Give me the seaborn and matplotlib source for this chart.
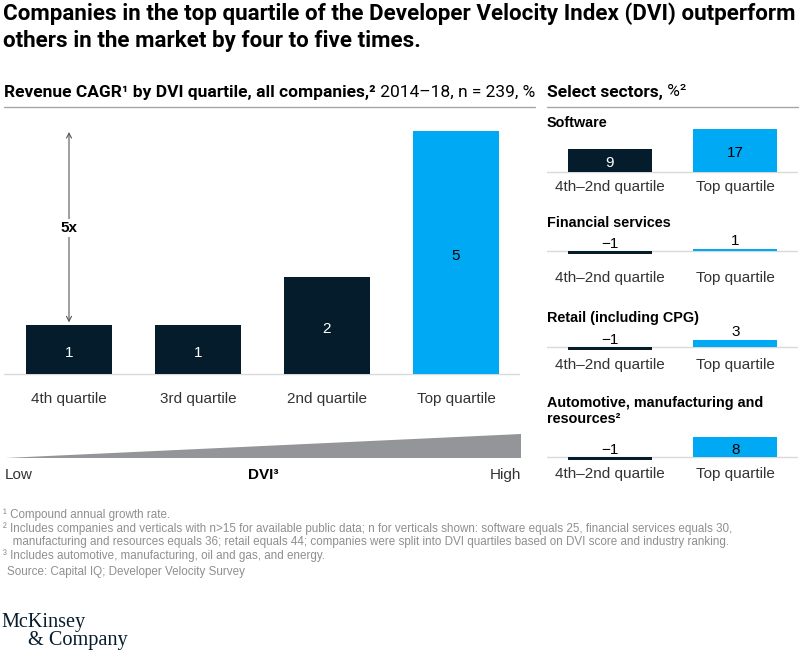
import matplotlib
matplotlib.use("Agg")
import matplotlib.pyplot as plt
from matplotlib.lines import Line2D
import seaborn as sns
import pandas as pd

# ---------------- data ----------------
quartiles = ["4th quartile", "3rd quartile", "2nd quartile", "Top quartile"]
cagr_all = [1, 1, 2, 5]
multiple_label = "5x"

sectors = ["Software", "Financial services", "Retail (including CPG)",
           "Automotive, manufacturing and\nresources²"]
sector_groups = ["4th–2nd quartile", "Top quartile"]
sector_low = [9, -1, -1, -1]
sector_top = [17, 1, 3, 8]

footnotes = [
    "¹ Compound annual growth rate.",
    "² Includes companies and verticals with n>15 for available public data; n for verticals shown: software equals 25, financial services equals 30,",
    "   manufacturing and resources equals 36; retail equals 44; companies were split into DVI quartiles based on DVI score and industry ranking.",
    "³ Includes automotive, manufacturing, oil and gas, and energy.",
]
source = "Source: Capital IQ; Developer Velocity Survey"

# ---------------- style ----------------
NAVY = "#051c2c"
BLUE = "#00a9f4"
GRID = "#d9d9d9"
TXT = "#333333"
W, H = 804, 655

sns.set_style("white")
plt.rcParams['font.family'] = ['Liberation Sans', 'DejaVu Sans']
TF = ['Roboto', 'Liberation Sans', 'DejaVu Sans']

fig = plt.figure(figsize=(W / 100, H / 100), dpi=100)
fig.patch.set_facecolor("white")
renderer = fig.canvas.get_renderer()


def px_axes(x0, y0, x1, y1):
    ax = fig.add_axes([x0 / W, 1 - y1 / H, (x1 - x0) / W, (y1 - y0) / H])
    ax.patch.set_alpha(0)
    return ax


def txt(x, y, s, size, ha="left", va="center", **kw):
    return fig.text(x / W, 1 - y / H, s, fontsize=size, ha=ha, va=va, **kw)


def width_of(t):
    return t.get_window_extent(renderer).width


def fit(t, w):
    t.set_fontsize(t.get_fontsize() * w / width_of(t))
    return t.get_fontsize()


def hline(x0, x1, y, color, lw=1.0):
    fig.add_artist(Line2D([x0 / W, x1 / W], [1 - y / H, 1 - y / H], color=color, lw=lw))


# ---------------- title ----------------
t1 = txt(3, 14, "Companies in the top quartile of the Developer Velocity Index (DVI) outperform",
         15, fontweight="bold", family=TF, color="black")
tsize = fit(t1, 794)
txt(3, 41, "others in the market by four to five times.", tsize, fontweight="bold",
    family=TF, color="black")

# ---------------- headers ----------------
hb = txt(4, 92, "Revenue CAGR¹ by DVI quartile, all companies,²", 12, fontweight="bold",
         family=TF, color="black")
hr = txt(4, 92, " 2014–18, n = 239, %", 12, family=TF, color="black")
scale = 531 / (width_of(hb) + width_of(hr))
hsize = 12 * scale
hb.set_fontsize(hsize)
hr.set_fontsize(hsize)
hr.set_x((4 + width_of(hb)) / W)
hline(4, 535, 107, "#a6a6a6")

sb = txt(547, 92, "Select sectors,", hsize, fontweight="bold", family=TF, color="black")
sr = txt(547 + width_of(sb), 92, " %²", hsize, family=TF, color="black")
hline(547, 798, 107, "#a6a6a6")

# ---------------- main bar chart ----------------
PXU = 48.6  # pixels per unit
base_px = 374
ax = px_axes(4.5, 120, 520.5, 380)
df = pd.DataFrame({"q": quartiles, "v": cagr_all})
pal = [NAVY, NAVY, NAVY, BLUE]
sns.barplot(data=df, x="q", y="v", hue="q", palette=pal, width=0.667, saturation=1,
            legend=False, ax=ax, edgecolor="none", linewidth=0)
ax.set_xlim(-0.5, 3.5)
ax.set_ylim(-(380 - base_px) / PXU, (base_px - 120) / PXU)
ax.set_axis_off()
ax.axhline(0, color=GRID, lw=1, zorder=0.5)
body = 11
for i, (q, v) in enumerate(zip(quartiles, cagr_all)):
    ax.annotate(str(v), xy=(i, v / 2), xytext=(0, -2 * 0.72), textcoords="offset points",
                ha="center", va="center_baseline", fontsize=body,
                color="white" if pal[i] == NAVY else "black")
    ax.annotate(q, xy=(i, 0), xytext=(0, -25 * 0.72), textcoords="offset points",
                ha="center", va="center", fontsize=body, color=TXT)

# multiple arrow
ax.annotate("", xy=(0, cagr_all[3] - 1 / PXU), xytext=(0, cagr_all[0] + 3 / PXU),
            arrowprops=dict(arrowstyle="<->,head_length=0.35,head_width=0.18",
                            color="#555555", lw=0.8, shrinkA=0, shrinkB=0))
ax.text(0, (cagr_all[0] + cagr_all[3]) / 2, multiple_label, ha="center", va="center",
        fontsize=body, fontweight="bold", color="black",
        bbox=dict(facecolor="white", edgecolor="none", pad=1.5))

# ---------------- DVI wedge ----------------
wax = px_axes(5, 434, 521, 458)
wax.fill([0, 1, 1], [0, 0, 1], color="#939598", lw=0)
wax.set_xlim(0, 1)
wax.set_ylim(0, 1)
wax.set_axis_off()
txt(5, 475, "Low", body, color=TXT)
txt(521, 475, "High", body, ha="right", color=TXT)
txt(263, 475, "DVI³", body, ha="center", fontweight="bold", color="black")

# ---------------- sector panels ----------------
SPX = 2.5  # pixels per unit
layout = [(123, 172, 187), (223, 251, 278), (318, 347, 365), (411, 457, 474)]
tt = txt(547, 223, "Financial services", 10, fontweight="bold", color="black")
secsize = fit(tt, 124)
tt.remove()
for k, (name, lo, hi) in enumerate(zip(sectors, sector_low, sector_top)):
    ty, yb, ly = layout[k]
    txt(547, ty, name, secsize, fontweight="bold", color="black", linespacing=1.25)
    sax = px_axes(547, yb - 50, 798, yb + 10)
    sdf = pd.DataFrame({"g": sector_groups, "v": [lo, hi]})
    sns.barplot(data=sdf, x="g", y="v", hue="g", palette=[NAVY, BLUE], width=0.667,
                saturation=1, legend=False, ax=sax, edgecolor="none", linewidth=0)
    sax.set_xlim(-0.5, 1.5)
    sax.set_ylim(-10 / SPX, 50 / SPX)
    sax.set_axis_off()
    sax.axhline(0, color=GRID, lw=1, zorder=0.5)
    for i, v in enumerate([lo, hi]):
        lab = str(v).replace("-", "−")
        if abs(v) >= 8:
            sax.annotate(lab, xy=(i, v / 2), xytext=(0, -1 * 0.72), textcoords="offset points",
                         ha="center", va="center_baseline", fontsize=body,
                         color="white" if i == 0 else "black")
        else:
            sax.annotate(lab, xy=(i, max(v, 0)), xytext=(0, 9 * 0.72),
                         textcoords="offset points", ha="center", va="center_baseline",
                         fontsize=body, color="black")
        sax.annotate(sector_groups[i], xy=(i, 0), xytext=(0, -(ly - yb) * 0.72),
                     textcoords="offset points", ha="center", va="center",
                     fontsize=body, color=TXT)

# ---------------- footnotes ----------------
FC = "#8f8f8f"
fn = txt(3, 529, footnotes[1], 8, color=FC)
fsize = fit(fn, 729)
txt(3, 515, footnotes[0], fsize, color=FC)
txt(3, 542, footnotes[2], fsize, color=FC)
txt(3, 555.5, footnotes[3], fsize, color=FC)
txt(7, 572, source, fsize, color=FC)

# ---------------- logo ----------------
lg = txt(1, 622, "McKinsey", 14, family=["Liberation Serif", "DejaVu Serif"], color=NAVY)
lsize = fit(lg, 85)
txt(28, 640, "& Company", lsize, family=["Liberation Serif", "DejaVu Serif"], color=NAVY)

fig.savefig("out.png", dpi=100, facecolor="white")
